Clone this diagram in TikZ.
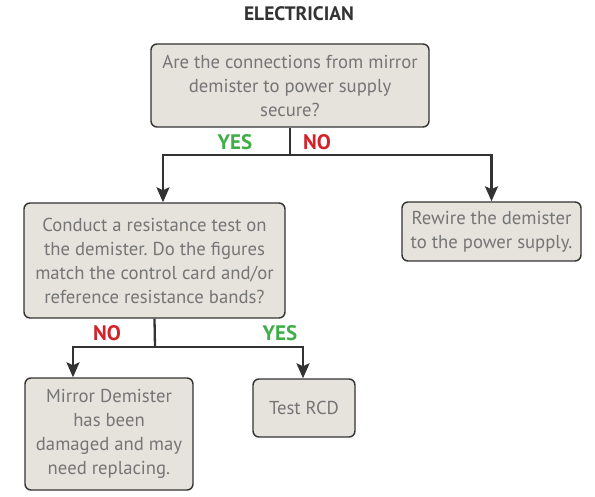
\documentclass[tikz,border=0pt]{standalone}
\usepackage{fontspec}
\setmainfont{PT Sans}
\usetikzlibrary{arrows.meta,calc}
\definecolor{boxfill}{HTML}{E6E3DC}
\definecolor{boxline}{HTML}{333333}
\definecolor{txtgray}{HTML}{757575}
\definecolor{yesgreen}{HTML}{3FAE49}
\definecolor{nored}{HTML}{D2232A}
\frenchspacing
\begin{document}
\begin{tikzpicture}[x=1pt,y=-1pt,
  box/.style={draw=boxline,line width=1.4pt,fill=boxfill,rounded corners=6pt,inner sep=0pt,align=center,text=txtgray,font=\fontsize{18.7}{24}\selectfont},
  conn/.style={draw=boxline,line width=2.3pt},
  arr/.style={conn,-{Stealth[length=15pt,width=13pt,inset=3pt]}},
  yeslab/.style={text=yesgreen,font=\fontsize{21}{22}\selectfont\bfseries},
  nolab/.style={text=nored,font=\fontsize{21}{22}\selectfont\bfseries}]
\useasboundingbox (0,0) rectangle (595,497);
\node[text=boxline,font=\fontsize{19.5}{22}\selectfont\bfseries] (title) at (299,14) {ELECTRICIAN};
\node[box,minimum width=278pt,minimum height=83pt] (top) at (290,85.5) {Are the connections from mirror\\demister to power supply\\secure?};
\node[box,minimum width=261pt,minimum height=115pt] (left) at (154.5,260.5) {Conduct a resistance test on\\the demister. Do the figures\\match the control card and/or\\reference resistance bands?};
\node[box,minimum width=179pt,minimum height=59pt] (right) at (491.5,231.5) {Rewire the demister\\to the power supply.};
\node[box,minimum width=168pt,minimum height=112pt] (bl) at (109,434) {Mirror Demister\\has been\\damaged and may\\need replacing.};
\node[box,minimum width=102pt,minimum height=58pt] (br) at (304,408) {Test RCD};
\coordinate (j1) at (290,155);
\coordinate (j2) at (155,347);
\draw[conn] (top.south) -- (j1);
\draw[arr] (j1) -| ([xshift=8.5pt]left.north);
\draw[arr] (j1) -| (right.north);
\draw[conn] (left.south) -- (j2);
\draw[arr] (j2) -| ([xshift=-36pt]bl.north);
\draw[arr] (j2) -| ([xshift=-1pt]br.north);
\node[yeslab] (y1) at (235,142) {YES};
\node[nolab] (n1) at (317,142) {NO};
\node[nolab] (n2) at (107,333) {NO};
\node[yeslab] (y2) at (280,333) {YES};
\end{tikzpicture}
\end{document}
